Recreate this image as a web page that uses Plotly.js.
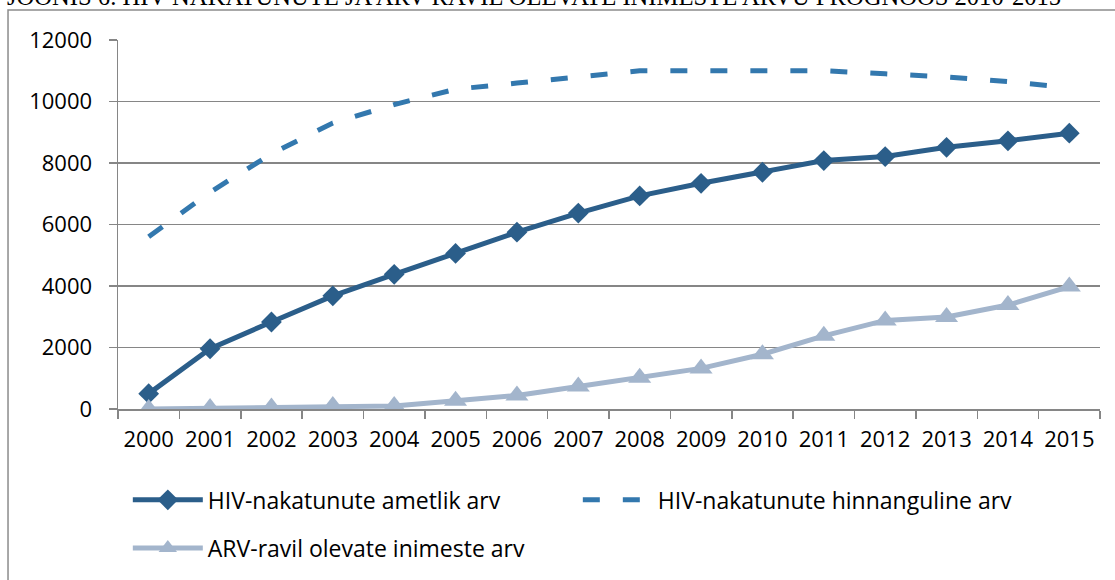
<!DOCTYPE html>
<html>
<head>
<meta charset="utf-8">
<script src="https://cdn.plot.ly/plotly-3.0.1.min.js"></script>
<style>
  html, body { margin: 0; padding: 0; background: #ffffff; }
  #chart { width: 1115px; height: 580px; }
</style>
</head>
<body>
<div id="chart"></div>
<script>
const years = ['2000','2001','2002','2003','2004','2005','2006','2007','2008','2009','2010','2011','2012','2013','2014','2015'];
const officialCount = [500, 1960, 2830, 3680, 4380, 5060, 5750, 6370, 6930, 7340, 7700, 8080, 8210, 8510, 8720, 8970];
const estimatedCount = [5600, 7050, 8300, 9300, 9900, 10400, 10600, 10800, 11000, 11000, 11000, 11000, 10900, 10800, 10650, 10450];
const arvCount = [0, 30, 50, 100, 100, 270, 440, 730, 1020, 1320, 1780, 2380, 2880, 2990, 3380, 3980];
const seriesNames = ['HIV-nakatunute ametlik arv', 'HIV-nakatunute hinnanguline arv', 'ARV-ravil olevate inimeste arv'];
const yTicks = [0, 2000, 4000, 6000, 8000, 10000, 12000];
const titleText = 'JOONIS 6. HIV-NAKATUNUTE JA ARV-RAVIL OLEVATE INIMESTE ARVU PROGNOOS 2010-2015';

const fontFam = '"Open Sans", "DejaVu Sans", sans-serif';

const traces = [
  {
    x: years, y: officialCount, name: seriesNames[0], type: 'scatter', mode: 'lines+markers',
    line: { color: '#2B5E8A', width: 5 },
    marker: { symbol: 'diamond', size: 16, color: '#2B5E8A' },
    legend: 'legend'
  },
  {
    x: years, y: estimatedCount, name: seriesNames[1], type: 'scatter', mode: 'lines',
    line: { color: '#3378AE', width: 5, dash: '17px,23px' },
    legend: 'legend'
  },
  {
    x: years, y: arvCount, name: seriesNames[2], type: 'scatter', mode: 'lines+markers',
    line: { color: '#A3B5CC', width: 5 },
    marker: { symbol: 'triangle-up', size: 20, color: '#A3B5CC' },
    legend: 'legend2'
  }
];

const legendCommon = {
  orientation: 'h', xanchor: 'left', yanchor: 'middle',
  font: { family: fontFam, size: 23, color: '#000000' },
  entrywidth: 365, entrywidthmode: 'pixels', itemwidth: 70,
  tracegroupgap: 0, bgcolor: 'rgba(0,0,0,0)'
};

const layout = {
  width: 1115, height: 580,
  margin: { l: 118, r: 15, t: 40, b: 170 },
  paper_bgcolor: '#ffffff', plot_bgcolor: '#ffffff',
  showlegend: true,
  font: { family: fontFam, size: 20, color: '#000000' },
  xaxis: {
    type: 'category', tickmode: 'array', tickvals: years, ticktext: years,
    tickson: 'boundaries', ticks: 'outside', ticklen: 8, tickwidth: 1.5, tickcolor: '#868686',
    showgrid: false, showline: true, linecolor: '#868686', linewidth: 1.5,
    zeroline: false, range: [-0.5, 15.5], ticklabelstandoff: 10,
    tickfont: { family: fontFam, size: 22, color: '#000000' }
  },
  yaxis: {
    range: [0, 12000], tickmode: 'array', tickvals: yTicks, ticktext: yTicks.map(String),
    ticks: 'outside', ticklen: 8, tickwidth: 1.5, tickcolor: '#868686',
    showgrid: true, gridcolor: '#868686', gridwidth: 1.5,
    showline: true, linecolor: '#868686', linewidth: 1.5,
    zeroline: false, ticklabelstandoff: 12,
    tickfont: { family: fontFam, size: 22, color: '#000000' }
  },
  legend: Object.assign({}, legendCommon, { x: 0.01, y: -0.243 }),
  legend2: Object.assign({}, legendCommon, { x: 0.01, y: -0.373 }),
  shapes: [
    { type: 'rect', xref: 'paper', yref: 'paper', x0: -0.112, x1: 1.03, y0: -0.48, y1: 1.081,
      line: { color: '#8C8C8C', width: 1.5 }, fillcolor: 'rgba(0,0,0,0)', layer: 'below' }
  ],
  annotations: [
    { text: titleText, xref: 'paper', yref: 'paper', x: -0.115, y: 1.075, xanchor: 'left', yanchor: 'bottom',
      showarrow: false, font: { family: '"Liberation Serif", "Times New Roman", serif', size: 24.6, color: '#000000' } }
  ]
};

Plotly.newPlot('chart', traces, layout, { displayModeBar: false, staticPlot: true });
</script>
</body>
</html>
